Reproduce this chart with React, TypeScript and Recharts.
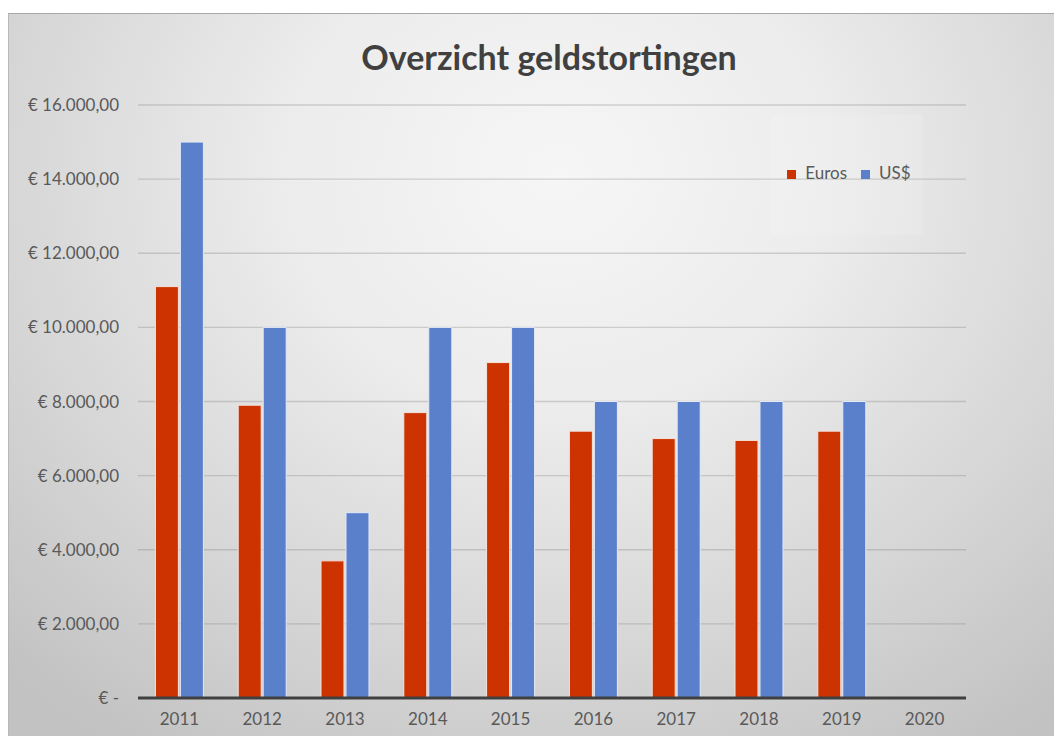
import React from 'react';
import { BarChart, Bar, XAxis, YAxis, CartesianGrid, Legend } from 'recharts';

const years = ['2011', '2012', '2013', '2014', '2015', '2016', '2017', '2018', '2019', '2020'];
const euros: (number | null)[] = [11100, 7900, 3700, 7700, 9050, 7200, 7000, 6950, 7200, null];
const usd: (number | null)[] = [15000, 10000, 5000, 10000, 10000, 8000, 8000, 8000, 8000, null];
const yTicks = [0, 2000, 4000, 6000, 8000, 10000, 12000, 14000, 16000];

const data = years.map((y, i) => ({ year: y, Euros: euros[i], 'US$': usd[i] }));

const fmt = (v: number) => {
  if (v === 0) return '€ -';
  const s = Math.round(v).toString().replace(/\B(?=(\d{3})+(?!\d))/g, '.');
  return `€ ${s},00`;
};

const FONT = 'Lato, "Open Sans", sans-serif';

export default function App() {
  return (
    <div
      style={{
        position: 'relative',
        marginTop: 5,
        width: 1054,
        height: 723,
        borderTop: '1px solid #a8a8a8',
        borderLeft: '1px solid #b8b8b8',
        background:
          'radial-gradient(ellipse 75% 95% at 52% 22%, #f6f6f6 0%, #ececec 35%, #d6d6d6 70%, #c2c2c2 100%)',
        fontFamily: FONT,
        overflow: 'hidden',
      }}
    >
      <div
        style={{
          position: 'absolute',
          left: 0,
          width: 1080,
          top: 22,
          textAlign: 'center',
          fontSize: 34,
          fontWeight: 700,
          color: '#404040',
          fontFamily: FONT,
        }}
      >
        Overzicht geldstortingen
      </div>
      <div
        style={{
          position: 'absolute',
          left: 762,
          top: 101,
          width: 152,
          height: 120,
          background: 'rgba(255,255,255,0.12)',
        }}
      />
      <BarChart
        width={1054}
        height={722}
        data={data}
        margin={{ top: 91, right: 97, bottom: 8, left: 29 }}
        barCategoryGap="21%"
        barGap={2}
      >
        <CartesianGrid vertical={false} stroke="#7a7a7a" strokeOpacity={0.3} strokeWidth={1.3} />
        <XAxis
          dataKey="year"
          tickLine={false}
          axisLine={{ stroke: '#404040', strokeWidth: 3 }}
          tickSize={0}
          tickMargin={15}
          height={30}
          tick={{ fill: '#595959', fontSize: 17, fontFamily: FONT }}
        />
        <YAxis
          width={100}
          domain={[0, 16000]}
          ticks={yTicks}
          tickFormatter={fmt}
          axisLine={false}
          tickLine={false}
          tickSize={0}
          tickMargin={19}
          interval={0}
          tick={{ fill: '#595959', fontSize: 17, fontFamily: FONT }}
        />
        <Legend
          layout="horizontal"
          align="center"
          verticalAlign="middle"
          iconType="square"
          iconSize={9}
          wrapperStyle={{ position: 'absolute', left: 762, top: 148, width: 170, fontSize: 17 }}
          formatter={(v: string) => (
            <span style={{ color: '#595959', fontSize: 17, fontFamily: FONT, marginRight: 4, marginLeft: 5 }}>{v}</span>
          )}
        />
        <Bar dataKey="Euros" fill="#CC3300" stroke="#f4e4dc" strokeWidth={1} isAnimationActive={false} />
        <Bar dataKey="US$" fill="#5A7FCB" stroke="#e4eaf6" strokeWidth={1} isAnimationActive={false} />
      </BarChart>
    </div>
  );
}
